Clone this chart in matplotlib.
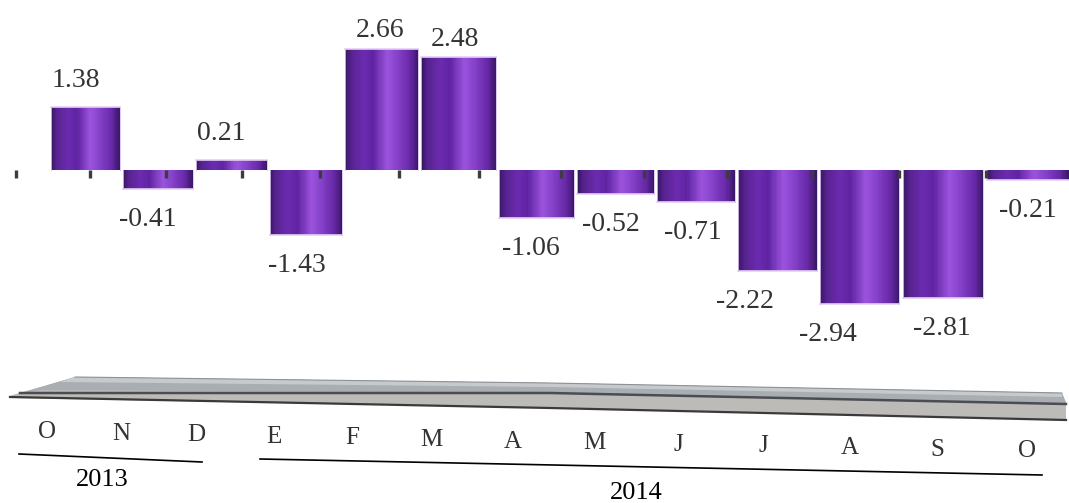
import numpy as np
import matplotlib
matplotlib.use("Agg")
import matplotlib.pyplot as plt
from matplotlib.colors import LinearSegmentedColormap
from matplotlib.patches import Polygon

# monthly values, Oct 2013 - Oct 2014
months = ['O', 'N', 'D', 'E', 'F', 'M', 'A', 'M', 'J', 'J', 'A', 'S', 'O']
values = [1.38, -0.41, 0.21, -1.43, 2.66, 2.48, -1.06, -0.52, -0.71, -2.22, -2.94, -2.81, -0.21]
years = ['2013', '2014']

W, H = 1069, 503
fig = plt.figure(figsize=(W / 100, H / 100), dpi=100)
ax = fig.add_axes([0, 0, 1, 1])
ax.set_axis_off()

# slight perspective along x: bars get wider towards the right
B, C = 71.95, 0.55
def persp(x):
    return B * np.asarray(x) + C * np.asarray(x) ** 2

def persp_inv(p):
    p = np.maximum(np.asarray(p, dtype=float), -B * B / (4 * C) + 1e-9)
    return (-B + np.sqrt(B * B + 4 * C * p)) / (2 * C)

ax.set_xscale('function', functions=(persp, persp_inv))

# pixel helper for the floor / labels (figure fraction)
def px(x, y):
    return (x / W, 1 - y / H)

serif = 'Liberation Serif'
cyl = LinearSegmentedColormap.from_list('cyl', [
    (0.00, '#3a1664'), (0.08, '#56238f'), (0.25, '#6c2bb0'), (0.38, '#5f24a2'),
    (0.58, '#9b53dd'), (0.72, '#8541c9'), (0.90, '#6628a6'), (1.00, '#3c186a')])

x = np.arange(len(values))
width = 0.96
nslice = 64

for xi, v in zip(x, values):
    lo, hi = min(0, v), max(0, v)
    xe = np.linspace(xi - width / 2, xi + width / 2, nslice + 1)
    shade = np.linspace(0, 1, nslice).reshape(1, -1)
    ax.pcolormesh(xe, [lo, hi], shade, cmap=cyl, vmin=0, vmax=1, shading='flat', zorder=2)
    ax.plot([xi - width / 2, xi + width / 2], [v, v], color='#e4d0f4', lw=1.2, zorder=3)
    ax.plot([xi - width / 2] * 2, [lo, hi], color='#d8c0ee', lw=0.6, zorder=3)
    ax.plot([xi + width / 2] * 2, [lo, hi], color='#d8c0ee', lw=0.6, zorder=3)

# back-plane tick marks, drifting right with depth
ticks = np.arange(-1, 12)
tick_x = ticks + 0.03 + 0.04 * (ticks + 1)
ax.scatter(tick_x, np.full(len(tick_x), -0.085), marker='|', s=30, lw=2.4,
           color='#3c3c3c', zorder=4)

# value labels
label_dx = [-9, -9, -9, -9, -1, -3, -5, -5, -3, -31, -30, -1, 0]
for xi, v, dx in zip(x, values, label_dx):
    if v > 2:
        dy = 13
    elif v > 0:
        dy = 19.5
    else:
        dy = -22
    ax.annotate(f'{v:.2f}', (xi, v), xytext=(dx * 0.75, dy), textcoords='offset points',
                ha='center', va='center', fontsize=20, family=serif, color='#333333')

ax.set_xlim(persp_inv(-85), persp_inv(W - 85))
ax.set_ylim(-(H - 170) / 45.5, 170 / 45.5)

# grey floor plank
def poly(pts, color):
    fig.patches.append(Polygon([px(*p) for p in pts], closed=True,
                               transform=fig.transFigure, facecolor=color, edgecolor='none'))

def line(pts, color, lw):
    xs, ys = zip(*[px(*p) for p in pts])
    fig.lines.append(plt.Line2D(xs, ys, transform=fig.transFigure, color=color, lw=lw))

poly([(10, 396), (75, 377), (550, 383), (1062, 393), (1066, 402), (1066, 420),
      (550, 408), (10, 398)], '#bdbbb8')
poly([(10, 396), (75, 377), (550, 383), (1062, 393), (1066, 403), (550, 393),
      (40, 390)], '#a9aeb3')
poly([(75, 377), (550, 383), (1062, 393), (1062, 397), (550, 387), (60, 382)], '#c6cacd')
line([(20, 393), (550, 393), (1066, 404)], '#4a4d51', 1.8)
line([(10, 397), (550, 408), (1066, 420)], '#3a3a3a', 1.6)
line([(75, 377), (550, 383), (1062, 393)], '#8e9297', 0.8)

# month labels along the front edge of the floor
n = len(months)
for i, m in enumerate(months):
    lx = 47 + 73.5 * i + 0.68 * i ** 2
    ly = 432 + 1.6 * i
    fig.text(*px(lx, ly), m, ha='center', va='center', fontsize=18,
             family=serif, color='#333333')

# year brackets
line([(19, 454), (202, 462)], 'black', 1.2)
line([(260, 459), (1042, 475)], 'black', 1.2)
fig.text(*px(102, 480), years[0], ha='center', va='center', fontsize=19, family=serif)
fig.text(*px(636, 493), years[1], ha='center', va='center', fontsize=19, family=serif)

fig.savefig('out.png', dpi=100)
